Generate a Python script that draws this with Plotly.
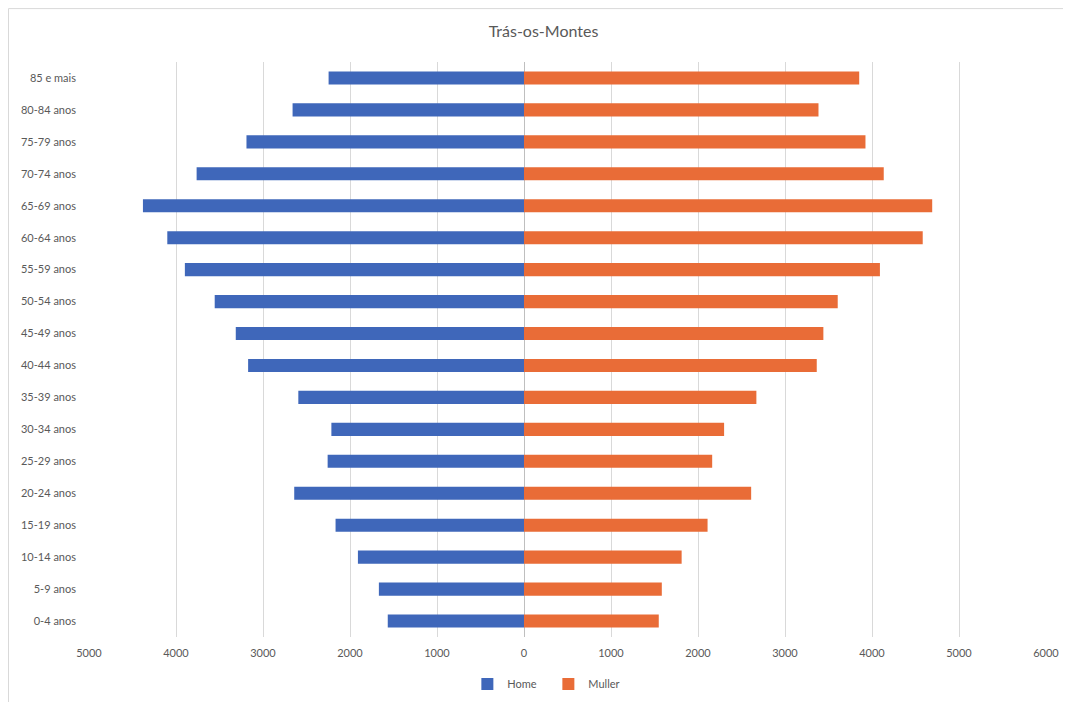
import plotly.graph_objects as go

categories = ["0-4 anos", "5-9 anos", "10-14 anos", "15-19 anos", "20-24 anos",
              "25-29 anos", "30-34 anos", "35-39 anos", "40-44 anos", "45-49 anos",
              "50-54 anos", "55-59 anos", "60-64 anos", "65-69 anos", "70-74 anos",
              "75-79 anos", "80-84 anos", "85 e mais"]
home = [1566, 1668, 1909, 2166, 2641, 2257, 2214, 2594, 3171, 3313,
        3555, 3898, 4100, 4380, 3763, 3190, 2660, 2246]
muller = [1549, 1584, 1812, 2110, 2611, 2163, 2300, 2671, 3365, 3441,
          3606, 4091, 4583, 4692, 4135, 3925, 3385, 3853]
tick_vals = [-5000, -4000, -3000, -2000, -1000, 0, 1000, 2000, 3000, 4000, 5000, 6000]
tick_text = ["5000", "4000", "3000", "2000", "1000", "0", "1000", "2000", "3000", "4000", "5000", "6000"]

fig = go.Figure()
fig.add_trace(go.Bar(y=categories, x=[-v for v in home], orientation="h", name="Home",
                     marker=dict(color="#3F67BA", line=dict(width=0)), width=0.41,
                     customdata=home, hovertemplate="%{y}: %{customdata}<extra>Home</extra>"))
fig.add_trace(go.Bar(y=categories, x=muller, orientation="h", name="Muller",
                     marker=dict(color="#E96C37", line=dict(width=0)), width=0.41,
                     hovertemplate="%{y}: %{x}<extra>Muller</extra>"))

grey = "#595959"
L, R, T, B = 81, 33, 54, 72
W, H = 1071, 702
pw, ph = W - L - R, H - T - B
fig.update_layout(
    width=W, height=H,
    barmode="overlay",
    paper_bgcolor="white", plot_bgcolor="white",
    font=dict(family="Lato, Open Sans, sans-serif", color=grey, size=11),
    title=dict(text="Trás-os-Montes", x=0.5, xanchor="center",
               y=0.966, yanchor="middle", font=dict(size=16, color=grey)),
    margin=dict(l=L, r=R, t=T, b=B),
    xaxis=dict(range=[-5000, 6000], tickvals=tick_vals, ticktext=tick_text,
               showgrid=True, gridcolor="#D9D9D9", gridwidth=1,
               zeroline=True, zerolinecolor="#BFBFBF", zerolinewidth=1,
               showline=False, ticks="", ticklabelstandoff=8,
               tickfont=dict(size=11, color=grey), fixedrange=True),
    yaxis=dict(categoryorder="array", categoryarray=categories,
               showgrid=False, zeroline=False, showline=False, ticks="",
               ticklabelstandoff=12, tickfont=dict(size=11, color=grey), fixedrange=True),
    legend=dict(orientation="h", x=0.48, xanchor="center", y=-0.08, yanchor="middle",
                font=dict(size=11, color=grey), itemwidth=30, entrywidth=36,
                traceorder="normal"),
    shapes=[dict(type="rect", xref="paper", yref="paper",
                 x0=(-L + 0.5) / pw, x1=(W - L + 5) / pw,
                 y0=(-B + 0.5) / ph, y1=1 + (T - 0.5) / ph,
                 line=dict(color="#D9D9D9", width=1), fillcolor="rgba(0,0,0,0)", layer="below")],
)

fig.write_html("out.html")
